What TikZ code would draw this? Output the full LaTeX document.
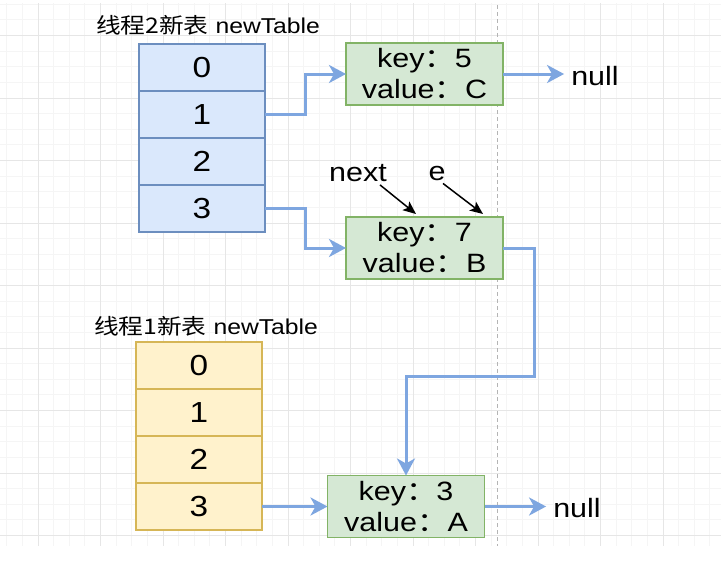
\documentclass[tikz,border=0pt]{standalone}
\usepackage{fontspec}
\setmainfont{Liberation Sans}[FakeStretch=1.15]
\newfontfamily\cjk{Noto Sans CJK SC}[FakeStretch=1.15]
\usetikzlibrary{
  arrows.meta,
  positioning,
  calc
}
\definecolor{TableBlue}{HTML}{DAE8FC}
\definecolor{TableBlueLine}{HTML}{6C8EBF}
\definecolor{TableYellow}{HTML}{FFF2CC}
\definecolor{TableYellowLine}{HTML}{D6B656}
\definecolor{EntryGreen}{HTML}{D5E8D4}
\definecolor{EntryGreenLine}{HTML}{82B366}
\definecolor{LinkBlue}{HTML}{7EA6E0}
\definecolor{GridMajor}{HTML}{E6E6E6}
\definecolor{GridMinor}{HTML}{F5F5F5}
\definecolor{GuideGray}{HTML}{B4B4B4}
\tikzset{
  bluecell/.style={draw=TableBlueLine,fill=TableBlue,line width=1.4pt,minimum width=126pt,minimum height=47pt,inner sep=0pt,outer sep=0pt,font=\fontsize{29}{29}\selectfont},
  yellowcell/.style={draw=TableYellowLine,fill=TableYellow,line width=1.4pt,minimum width=126pt,minimum height=47pt,inner sep=0pt,outer sep=0pt,font=\fontsize{29}{29}\selectfont},
  entrynode/.style={draw=EntryGreenLine,fill=EntryGreen,line width=1.4pt,minimum width=157pt,minimum height=62pt,inner sep=0pt,outer sep=0pt,align=center,font=\fontsize{26.5}{31}\selectfont},
  tabletitle/.style={inner sep=2pt,font=\fontsize{21.5}{21.5}\selectfont},
  plaintext/.style={inner sep=7pt,font=\fontsize{26.5}{26.5}\selectfont},
  link/.style={-{Stealth[length=17pt,width=18pt,inset=5pt]},line width=3pt,draw=LinkBlue},
  pointer/.style={-{Stealth[length=13pt,width=11pt,inset=3pt]},line width=1.5pt,draw=black},
  minorgrid/.style={draw=GridMinor,line width=0.8pt},
  majorgrid/.style={draw=GridMajor,line width=1pt},
  guide/.style={draw=GuideGray,line width=0.8pt,dash pattern=on 4pt off 3pt}
}

\begin{document}
\begin{tikzpicture}[x=1pt,y=-1pt]
\useasboundingbox[fill=white] (0,0) rectangle (721,568);
% grid
\foreach \k in {-2,...,43} \draw[minorgrid] ({38+\k*15.625},3) -- ({38+\k*15.625},546);
\foreach \k in {-2,...,32} \draw[minorgrid] (0,{35.5+\k*15.625}) -- (721,{35.5+\k*15.625});
\foreach \k in {0,...,10} \draw[majorgrid] ({38+\k*62.5},3) -- ({38+\k*62.5},546);
\foreach \k in {0,...,8} \draw[majorgrid] (0,{35.5+\k*62.5}) -- (721,{35.5+\k*62.5});
\draw[guide] (497,5) -- (497,546);

% thread 2 table
\node[tabletitle] (t2) at (208,25) {{\cjk 线程2新表} newTable};
\node[bluecell] (b0) at (202,67.5) {0};
\node[bluecell, below=0pt of b0] (b1) {1};
\node[bluecell, below=0pt of b1] (b2) {2};
\node[bluecell, below=0pt of b2] (b3) {3};

% thread 1 table
\node[tabletitle] (t1) at (206,326) {{\cjk 线程1新表} newTable};
\node[yellowcell] (y0) at (199,365.5) {0};
\node[yellowcell, below=0pt of y0] (y1) {1};
\node[yellowcell, below=0pt of y1] (y2) {2};
\node[yellowcell, below=0pt of y2] (y3) {3};

% entries
\node[entrynode] (k5) at (424.5,74) {key{\cjk ：}5\\value{\cjk ：}C};
\node[entrynode] (k7) at (424.5,248) {key{\cjk ：}7\\value{\cjk ：}B};
\node[entrynode] (k3) at (406,506.5) {key{\cjk ：}3\\value{\cjk ：}A};
\node[plaintext] (n5) at (595,76) {null};
\node[plaintext] (n3) at (577,508) {null};
\node[plaintext] (nx) at (358,173) {next};
\node[plaintext] (ev) at (437,173) {e};

\draw[link] (b1.east) -- ++(40,0) |- (k5.west);
\draw[link] (b3.east) -- ++(40,0) |- (k7.west);
\draw[link] (y3.east) -- (k3.west);
\draw[link] (k5.east) -- (k5.east -| n5.west);
\draw[link] (k3.east) -- (k3.east -| n3.west);
\draw[link] (k7.east) -- ++(31,0) -- ++(0,128) -| (k3.north);
\draw[pointer] ($(nx.south)+(22,-4)$) -- ($(k7.north west)+(70,-3)$);
\draw[pointer] ($(ev.south)+(6,-4)$) -- ($(k7.north west)+(137,-3)$);
\end{tikzpicture}
\end{document}
